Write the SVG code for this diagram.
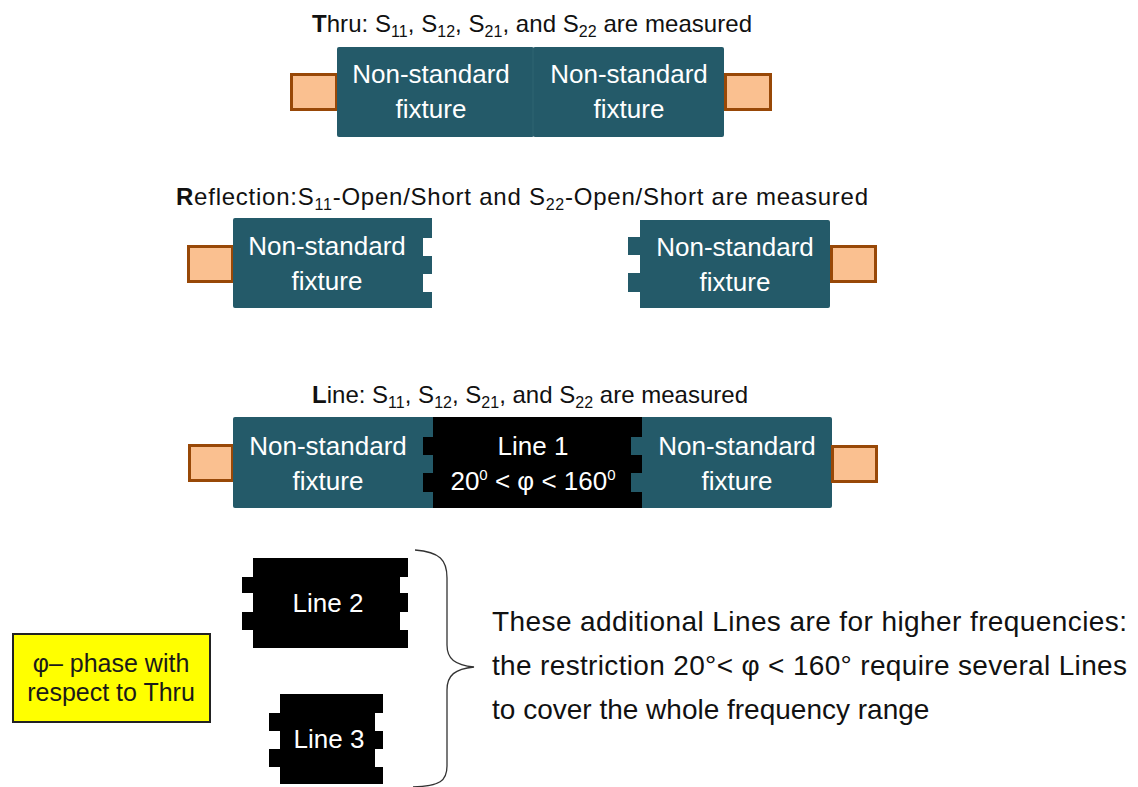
<svg xmlns="http://www.w3.org/2000/svg" width="1138" height="787" viewBox="0 0 1138 787">
<style>
.t{font-family:"Liberation Sans",Arial,sans-serif;fill:#111}
.title{font-size:24px}
.sub{font-size:16px}
.lbl{font-family:"Liberation Sans",Arial,sans-serif;font-size:26px;fill:#fff;text-anchor:middle}
.fix{fill:#245a69}
.blk{fill:#000}
.port{fill:#fac090;stroke:#984807;stroke-width:3}
.note{font-family:"Liberation Sans",Arial,sans-serif;font-size:28px;fill:#111}
</style>
<rect width="1138" height="787" fill="#fff"/>

<!-- Thru row -->
<text class="t title" x="312" y="32" textLength="440"><tspan font-weight="bold">T</tspan>hru: S<tspan class="sub" dy="5">11</tspan><tspan dy="-5">, S</tspan><tspan class="sub" dy="5">12</tspan><tspan dy="-5">, S</tspan><tspan class="sub" dy="5">21</tspan><tspan dy="-5">, and S</tspan><tspan class="sub" dy="5">22</tspan><tspan dy="-5"> are measured</tspan></text>
<g id="thru-port-left"><rect class="port" x="291.5" y="74.5" width="45" height="35"/></g>
<g id="thru-fixture-left">
<rect class="fix" x="337" y="47" width="197" height="90" rx="2"/>
<text class="lbl" x="431" y="83">Non-standard</text>
<text class="lbl" x="431" y="118">fixture</text>
</g>
<g id="thru-fixture-right">
<rect class="fix" x="533" y="47" width="191" height="90" rx="2"/>
<line x1="533" y1="48" x2="533" y2="136" stroke="#2e6473" stroke-width="1"/>
<text class="lbl" x="629" y="83">Non-standard</text>
<text class="lbl" x="629" y="118">fixture</text>
</g>
<g id="thru-port-right"><rect class="port" x="725.5" y="74.5" width="45" height="35"/></g>

<!-- Reflection row -->
<text class="t title" x="176" y="205" textLength="692"><tspan font-weight="bold">R</tspan>eflection:S<tspan class="sub" dy="5">11</tspan><tspan dy="-5">-Open/Short and S</tspan><tspan class="sub" dy="5">22</tspan><tspan dy="-5">-Open/Short are measured</tspan></text>
<g id="refl-port-left"><rect class="port" x="188.5" y="246.5" width="44" height="35"/></g>
<g id="refl-fixture-left">
<path class="fix" d="M235,218 H432 V238 H423 V256 H432 V274 H423 V292 H432 V308 H235 Q233,308 233,306 V220 Q233,218 235,218 Z"/>
<text class="lbl" x="327" y="255">Non-standard</text>
<text class="lbl" x="327" y="290">fixture</text>
</g>
<g id="refl-fixture-right">
<path class="fix" d="M640,220 H828 Q830,220 830,222 V306 Q830,308 828,308 H640 V292 H628 V273 H640 V255 H628 V237 H640 Z"/>
<text class="lbl" x="735" y="256">Non-standard</text>
<text class="lbl" x="735" y="291">fixture</text>
</g>
<g id="refl-port-right"><rect class="port" x="831.5" y="246.5" width="44" height="35"/></g>

<!-- Line row -->
<text class="t title" x="312" y="403" textLength="436"><tspan font-weight="bold">L</tspan>ine: S<tspan class="sub" dy="5">11</tspan><tspan dy="-5">, S</tspan><tspan class="sub" dy="5">12</tspan><tspan dy="-5">, S</tspan><tspan class="sub" dy="5">21</tspan><tspan dy="-5">, and S</tspan><tspan class="sub" dy="5">22</tspan><tspan dy="-5"> are measured</tspan></text>
<g id="line-port-left"><rect class="port" x="189.5" y="445.5" width="43" height="35"/></g>
<g id="line-fixture-left">
<rect class="fix" x="233" y="417" width="210" height="91" rx="2"/>
<text class="lbl" x="328" y="455">Non-standard</text>
<text class="lbl" x="328" y="490">fixture</text>
</g>
<g id="line-fixture-right">
<rect class="fix" x="625" y="417" width="207" height="91" rx="2"/>
<text class="lbl" x="737" y="455">Non-standard</text>
<text class="lbl" x="737" y="490">fixture</text>
</g>
<g id="line1">
<path class="blk" d="M433,417 H642 V437 H631 V455 H642 V473 H631 V492 H642 V508 H433 V492 H423 V473 H433 V455 H423 V437 H433 Z"/>
<text class="lbl" x="533" y="455">Line 1</text>
<text class="lbl" x="533" y="490">20<tspan font-size="15" dy="-10">0</tspan><tspan dy="10"> &lt; φ &lt; 160</tspan><tspan font-size="15" dy="-10">0</tspan></text>
</g>
<g id="line-port-right"><rect class="port" x="832.5" y="446.5" width="44" height="35"/></g>

<!-- Additional lines -->
<g id="line2">
<path class="blk" d="M253,558 H408 V577 H400 V593 H408 V612 H400 V630 H408 V648 H253 V630 H242 V612 H253 V593 H242 V577 H253 Z"/>
<text class="lbl" x="328" y="612">Line 2</text>
</g>
<g id="line3">
<path class="blk" d="M280,694 H383 V713 H375 V731 H383 V749 H375 V767 H383 V784 H280 V767 H269 V749 H280 V731 H269 V713 H280 Z"/>
<text class="lbl" x="329" y="748">Line 3</text>
</g>

<g id="legend">
<rect x="13" y="634" width="197" height="88" fill="#ffff00" stroke="#222" stroke-width="2"/>
<text x="111" y="672" font-family="Liberation Sans, Arial, sans-serif" font-size="25" fill="#1a1a1a" text-anchor="middle">φ– phase with</text>
<text x="111" y="701" font-family="Liberation Sans, Arial, sans-serif" font-size="25" fill="#1a1a1a" text-anchor="middle">respect to Thru</text>
</g>

<g id="connectors">
<path d="M415,550 C440,552 447,560 447,578 L447,645 C447,659 455,665 474,667 C455,669 447,675 447,690 L447,766 C447,781 440,786 413,787" fill="none" stroke="#333" stroke-width="1.3"/>
</g>

<g id="note">
<text class="note" x="492" y="631" textLength="635" lengthAdjust="spacing">These additional Lines are for higher frequencies:</text>
<text class="note" x="492" y="675" textLength="635" lengthAdjust="spacing">the restriction 20°&lt; φ &lt; 160° require several Lines</text>
<text class="note" x="492" y="719">to cover the whole frequency range</text>
</g>
</svg>
